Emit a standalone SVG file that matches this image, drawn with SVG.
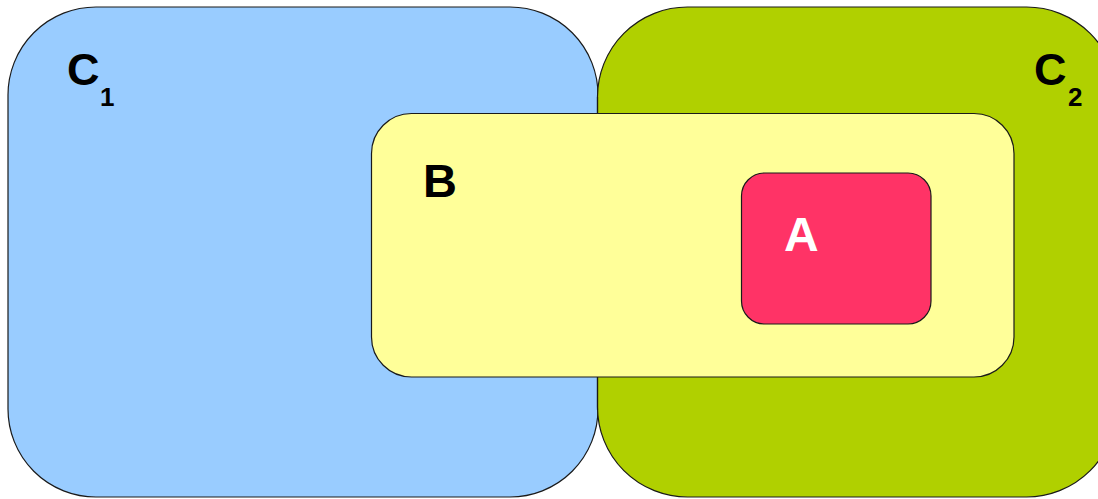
<svg xmlns="http://www.w3.org/2000/svg" width="1098" height="499" viewBox="0 0 1098 499">
<style>
.box{stroke:#1a1a1a;stroke-width:1.2}
.lbl{font-family:"Liberation Sans",Arial,sans-serif;font-weight:bold;fill:#000}
.sub{font-family:"Liberation Sans",Arial,sans-serif;font-weight:bold;fill:#000;font-size:26px}
</style>
<g id="C1">
<rect class="box" x="8" y="7" width="590" height="490" rx="88" ry="88" fill="#99ccff"/>
<text class="lbl" x="67" y="85" font-size="45">C</text>
<text class="sub" x="100" y="106">1</text>
</g>
<g id="C2">
<rect class="box" x="597.5" y="7" width="519" height="490" rx="90" ry="90" fill="#b0d000"/>
<text class="lbl" x="1034" y="85" font-size="45">C</text>
<text class="sub" x="1068" y="106">2</text>
</g>
<line x1="597.5" y1="97" x2="597.5" y2="410" stroke="#1a1a1a" stroke-width="1.2"/>
<g id="B">
<rect class="box" x="371.5" y="113.5" width="642.5" height="263.5" rx="40" ry="40" fill="#ffff99"/>
<text class="lbl" x="423" y="197" font-size="47">B</text>
</g>
<g id="A">
<rect class="box" x="741.5" y="173" width="189.5" height="151" rx="23" ry="23" fill="#ff3366"/>
<text class="lbl" x="784" y="251" font-size="48" style="fill:#fff">A</text>
</g>
<g id="connectors"/>
</svg>
